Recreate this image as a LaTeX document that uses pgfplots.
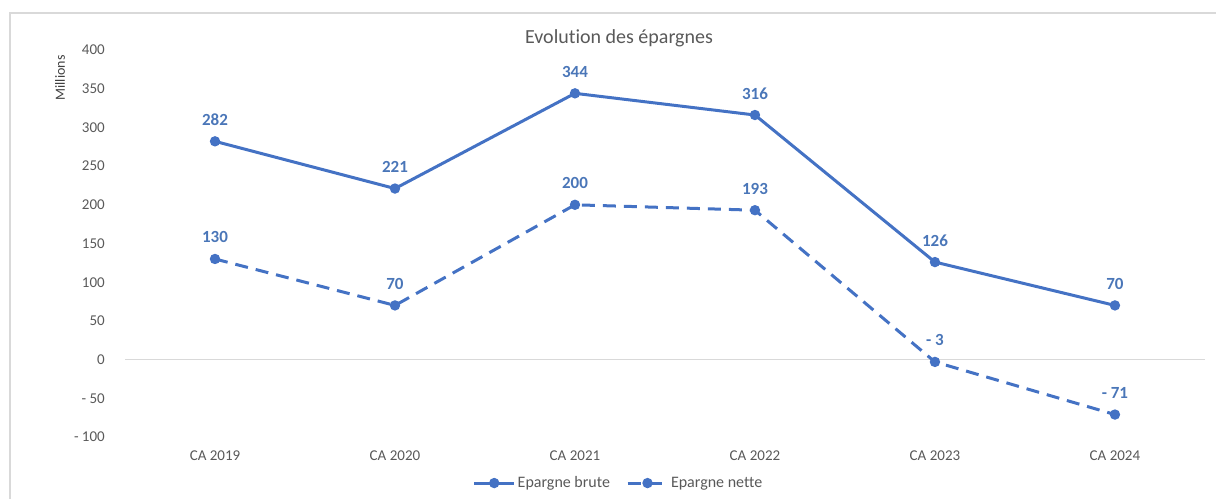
\documentclass[border=0pt]{standalone}
\usepackage{pgfplots}
\pgfplotsset{compat=1.18}
\usepackage{fontspec}
\setmainfont{Carlito}[Ligatures=NoCommon]
\definecolor{serie}{HTML}{4472C4}
\definecolor{lbl}{HTML}{4A76B8}
\definecolor{tickgray}{HTML}{595959}
\definecolor{bordergray}{HTML}{D9D9D9}
\begin{document}
\begin{tikzpicture}
\begin{axis}[
  at={(125bp,62bp)}, anchor=south west,
  width=1080bp, height=387bp, scale only axis,
  xmin=-0.5, xmax=5.5, ymin=-100, ymax=400,
  xtick={0,1,2,3,4,5},
  xticklabels={CA 2019, CA 2020, CA 2021, CA 2022, CA 2023, CA 2024},
  ytick={-100,-50,0,50,100,150,200,250,300,350,400},
  yticklabels={- 100,- 50,0,50,100,150,200,250,300,350,400},
  axis line style={draw=none},
  major tick length=0pt,
  tick style={draw=none},
  xticklabel style={anchor=north, inner sep=0pt, yshift=-14bp, text=tickgray, font=\fontsize{15bp}{18bp}\selectfont},
  yticklabel style={anchor=east, inner sep=0pt, xshift=-20bp, text=tickgray, font=\fontsize{15bp}{18bp}\selectfont},
  extra y ticks={0},
  extra y tick labels={},
  extra y tick style={grid=major, major grid style={draw=bordergray, line width=1.5bp}},
  clip=false,
  legend columns=2,
  legend style={at={(0.457,-0.119)}, anchor=center, draw=none, fill=none,
    font=\fontsize{16bp}{19bp}\selectfont, text=tickgray,
    /tikz/every even column/.append style={column sep=14bp}},
  legend image code/.code={\draw[mark repeat=2,mark phase=2,#1] plot coordinates {(0bp,0bp) (20bp,0bp) (40bp,0bp)};},
  nodes near coords,
  point meta=explicit symbolic,
  every node near coord/.append style={anchor=base, inner sep=0pt, yshift=16bp,
    text=lbl, font=\fontsize{17bp}{20bp}\selectfont\bfseries},
]
\addplot[serie, line width=3bp, mark=*, mark size=3.6bp, mark options={solid}]
  table[meta=lab] {
x y lab
0 282 282
1 221 221
2 344 344
3 316 316
4 126 126
5 70 70
};
\addlegendentry{Epargne brute}
\addplot[serie, line width=3bp, dash pattern=on 13bp off 8bp, mark=*, mark size=3.6bp, mark options={solid}]
  table[meta=lab] {
x y lab
0 130 130
1 70 70
2 200 200
3 193 193
4 -3 {-\ 3}
5 -71 {-\ 71}
};
\addlegendentry{Epargne nette}
\end{axis}
\node[text=tickgray, font=\fontsize{20bp}{24bp}\selectfont] at (619bp,461bp) {Evolution des épargnes};
\node[rotate=90, text=black!75, font=\fontsize{14bp}{17bp}\selectfont] at (60bp,421bp) {Millions};
\draw[bordergray, line width=2bp] (10bp,-5bp) -- (10bp,486bp) -- (1225bp,486bp);
\pgfresetboundingbox
\useasboundingbox (0,0) rectangle (1216bp,499bp);
\end{tikzpicture}
\end{document}
